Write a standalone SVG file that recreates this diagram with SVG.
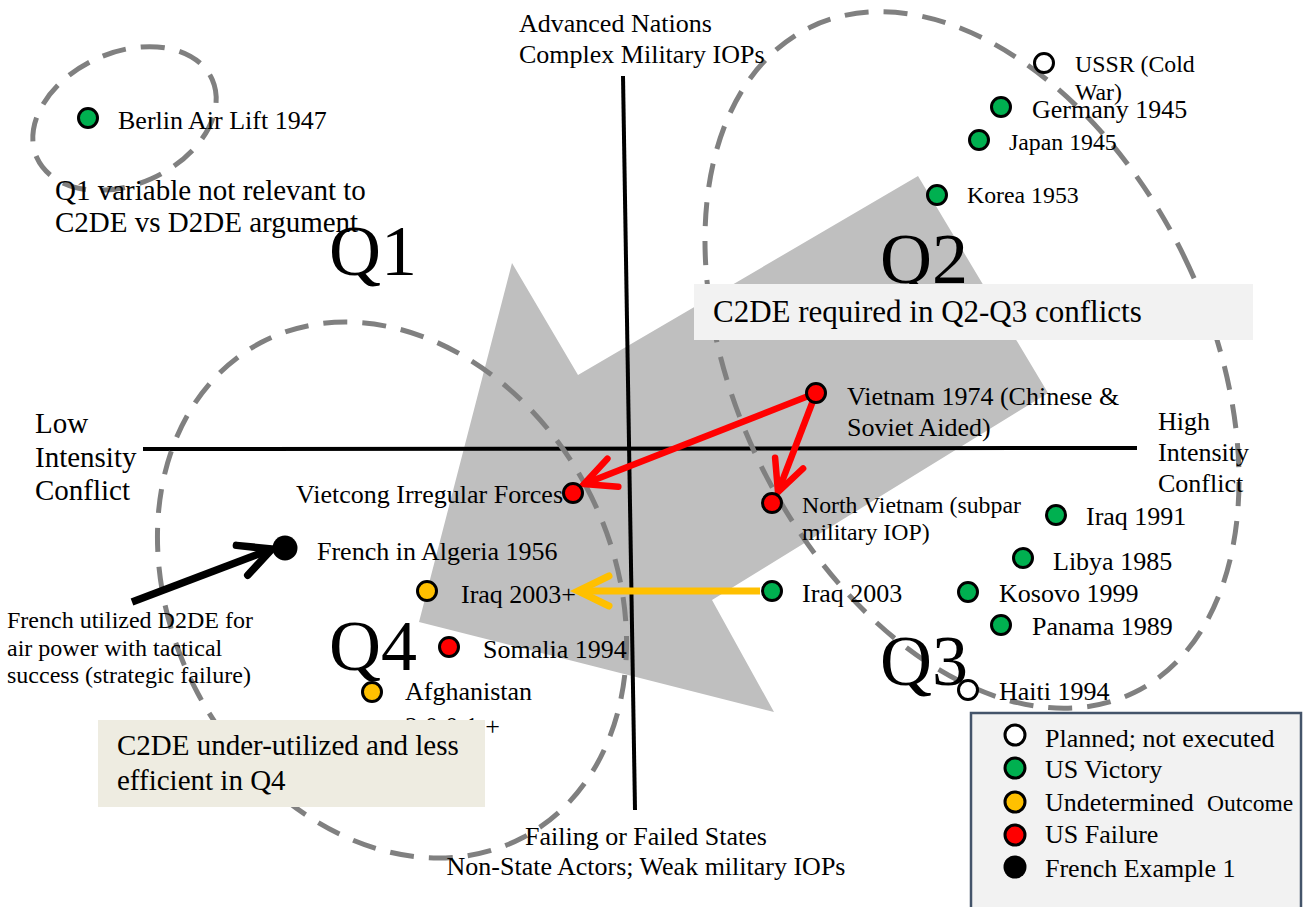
<svg xmlns="http://www.w3.org/2000/svg" width="1306" height="907" viewBox="0 0 1306 907">
<style>
text { font-family: "Liberation Serif", "Times New Roman", serif; fill: #000; }
.lbl { font-size: 26px; }
.sm { font-size: 23.8px; }
.q { font-size: 72px; }
.dot { stroke: #000; stroke-width: 3; }
.g { fill: #00b050; }
.r { fill: #ff0000; }
.y { fill: #ffc000; }
.w { fill: #ffffff; }
.k { fill: #000000; }
.dash { fill: none; stroke: #808080; stroke-width: 5; stroke-dasharray: 24 15; }
.axis { stroke: #000; stroke-width: 4; fill: none; }
</style>
<defs>
<marker id="headRed" markerUnits="userSpaceOnUse" orient="auto" refX="0" refY="0" markerWidth="80" markerHeight="80" viewBox="-40 -40 80 80" overflow="visible">
<path d="M-31,-15 L0,0 L-31,15" fill="none" stroke="#ff0000" stroke-width="6.5" stroke-linecap="round" stroke-linejoin="miter"/>
</marker>
<marker id="headYel" markerUnits="userSpaceOnUse" orient="auto" refX="0" refY="0" markerWidth="80" markerHeight="80" viewBox="-40 -40 80 80" overflow="visible">
<path d="M-31,-15 L0,0 L-31,15" fill="none" stroke="#ffc000" stroke-width="7" stroke-linecap="round" stroke-linejoin="miter"/>
</marker>
<marker id="headBlk" markerUnits="userSpaceOnUse" orient="auto" refX="0" refY="0" markerWidth="80" markerHeight="80" viewBox="-40 -40 80 80" overflow="visible">
<path d="M-32,-16 L0,0 L-32,16" fill="none" stroke="#000000" stroke-width="7.5" stroke-linecap="round" stroke-linejoin="miter"/>
</marker>
</defs>
<rect width="1306" height="907" fill="#ffffff"/>

<g id="background">
<polygon points="419,622 512,263 578,375 918,176 1048,393 712,600 774,712" fill="#bfbfbf"/>
<line class="axis" x1="623" y1="76" x2="635" y2="810"/>
<line class="axis" x1="143" y1="449" x2="1137" y2="448"/>
<ellipse class="dash" cx="124.5" cy="118.5" rx="96" ry="66" transform="rotate(-24 124.5 118.5)"/>
<ellipse class="dash" cx="972" cy="360" rx="236" ry="370" transform="rotate(-26 972 360)"/>
<ellipse class="dash" cx="392" cy="590" rx="220" ry="280" transform="rotate(-28 392 590)"/>
</g>

<g id="axis-labels">
<text class="lbl" x="519" y="32">Advanced Nations</text>
<text class="lbl" x="519" y="63">Complex Military IOPs</text>
<text class="lbl" x="646" y="845" text-anchor="middle">Failing or Failed States</text>
<text class="lbl" x="646" y="875" text-anchor="middle">Non-State Actors; Weak military IOPs</text>
<text class="lbl" x="1158" y="430">High</text>
<text class="lbl" x="1158" y="461">Intensity</text>
<text class="lbl" x="1158" y="492">Conflict</text>
<text x="35" y="433" font-size="29">Low</text>
<text x="35" y="467" font-size="29">Intensity</text>
<text x="35" y="500" font-size="29">Conflict</text>
<text class="q" x="329" y="275">Q1</text>
<text class="q" x="880" y="283">Q2</text>
<text class="q" x="880" y="685">Q3</text>
<text class="q" x="329" y="670">Q4</text>
<text x="55" y="200" font-size="29">Q1 variable not relevant to</text>
<text x="55" y="232" font-size="29">C2DE vs D2DE argument</text>
<text x="7" y="628" font-size="24">French utilized D2DE for</text>
<text x="7" y="656" font-size="24">air power with tactical</text>
<text x="7" y="683" font-size="24">success (strategic failure)</text>
</g>

<g id="connectors">
<line x1="816" y1="393" x2="584" y2="484" stroke="#ff0000" stroke-width="6.5" marker-end="url(#headRed)"/>
<line x1="816" y1="393" x2="778" y2="492" stroke="#ff0000" stroke-width="6.5" marker-end="url(#headRed)"/>
<line x1="760" y1="591" x2="578" y2="591" stroke="#ffc000" stroke-width="7" marker-end="url(#headYel)"/>
<line x1="132" y1="602" x2="272" y2="549" stroke="#000000" stroke-width="7.5" marker-end="url(#headBlk)"/>
</g>

<g id="node-berlin"><circle class="dot g" cx="88" cy="118" r="9.5"/><text class="lbl" x="118" y="129">Berlin Air Lift 1947</text></g>
<g id="node-ussr"><circle class="dot w" cx="1044" cy="63" r="9.5"/><text class="sm" x="1075" y="72">USSR (Cold</text><text class="sm" x="1075" y="100">War)</text></g>
<g id="node-germany"><circle class="dot g" cx="1001" cy="107" r="9.5"/><text class="lbl" x="1032" y="118">Germany 1945</text></g>
<g id="node-japan"><circle class="dot g" cx="979" cy="140" r="9.5"/><text class="sm" x="1009" y="150">Japan 1945</text></g>
<g id="node-korea"><circle class="dot g" cx="937" cy="195" r="9.5"/><text class="sm" x="967" y="203">Korea 1953</text></g>
<g id="node-vietnam1974"><circle class="dot r" cx="816" cy="393" r="9.5"/><text class="lbl" x="847" y="405">Vietnam 1974 (Chinese &amp;</text><text class="lbl" x="847" y="436">Soviet Aided)</text></g>
<g id="node-northvietnam"><circle class="dot r" cx="772" cy="503" r="9.5"/><text class="sm" x="802" y="513">North Vietnam (subpar</text><text class="sm" x="802" y="540">military IOP)</text></g>
<g id="node-iraq1991"><circle class="dot g" cx="1056" cy="515" r="9.5"/><text class="lbl" x="1086" y="525">Iraq 1991</text></g>
<g id="node-libya"><circle class="dot g" cx="1023" cy="558" r="9.5"/><text class="lbl" x="1053" y="570">Libya 1985</text></g>
<g id="node-kosovo"><circle class="dot g" cx="968" cy="592" r="9.5"/><text class="lbl" x="999" y="602">Kosovo 1999</text></g>
<g id="node-panama"><circle class="dot g" cx="1001" cy="625" r="9.5"/><text class="lbl" x="1032" y="635">Panama 1989</text></g>
<g id="node-iraq2003"><circle class="dot g" cx="772" cy="591" r="9.5"/><text class="lbl" x="802" y="602">Iraq 2003</text></g>
<g id="node-haiti"><circle class="dot w" cx="968" cy="690" r="9.5"/><text class="lbl" x="999" y="700">Haiti 1994</text></g>
<g id="node-vietcong"><text class="lbl" x="296" y="503" font-size="26.5">Vietcong Irregular Forces</text><circle class="dot r" cx="573" cy="493" r="9.5"/></g>
<g id="node-french-algeria"><circle cx="285" cy="548" r="12.5" fill="#000"/><text class="lbl" x="317" y="560">French in Algeria 1956</text></g>
<g id="node-iraq2003plus"><circle class="dot y" cx="427" cy="591" r="9.5"/><text class="lbl" x="461" y="603">Iraq 2003+</text></g>
<g id="node-somalia"><circle class="dot r" cx="449" cy="647" r="9.5"/><text class="lbl" x="483" y="658">Somalia 1994</text></g>
<g id="node-afghanistan"><circle class="dot y" cx="372" cy="692" r="9.5"/><text class="lbl" x="405" y="700">Afghanistan</text><text class="lbl" x="405" y="735" textLength="95" lengthAdjust="spacing">2001+</text></g>

<g id="note-c2de-required">
<rect x="694" y="284" width="559" height="56" fill="#f2f2f2"/>
<text x="713" y="322" font-size="31">C2DE required in Q2-Q3 conflicts</text>
</g>
<g id="note-c2de-underutilized">
<rect x="98" y="720" width="387" height="87" fill="#eeece1"/>
<text x="117" y="755" font-size="29">C2DE under-utilized and less</text>
<text x="117" y="790" font-size="29">efficient in Q4</text>
</g>

<g id="legend">
<rect x="971" y="713" width="330" height="210" fill="#f2f2f2" stroke="#44546a" stroke-width="2.5"/>
<circle class="dot w" cx="1015" cy="735" r="10"/>
<text class="lbl" x="1045" y="747">Planned; not executed</text>
<circle class="dot g" cx="1015" cy="768" r="10"/>
<text class="lbl" x="1045" y="778">US Victory</text>
<circle class="dot y" cx="1015" cy="802" r="10"/>
<text class="lbl" x="1045" y="811">Undetermined<tspan x="1207" font-size="23.5">Outcome</tspan></text>
<circle class="dot r" cx="1015" cy="835" r="10"/>
<text class="lbl" x="1045" y="843">US Failure</text>
<circle cx="1015" cy="867" r="11.5" fill="#000"/>
<text class="lbl" x="1045" y="877">French Example 1</text>
</g>
</svg>
